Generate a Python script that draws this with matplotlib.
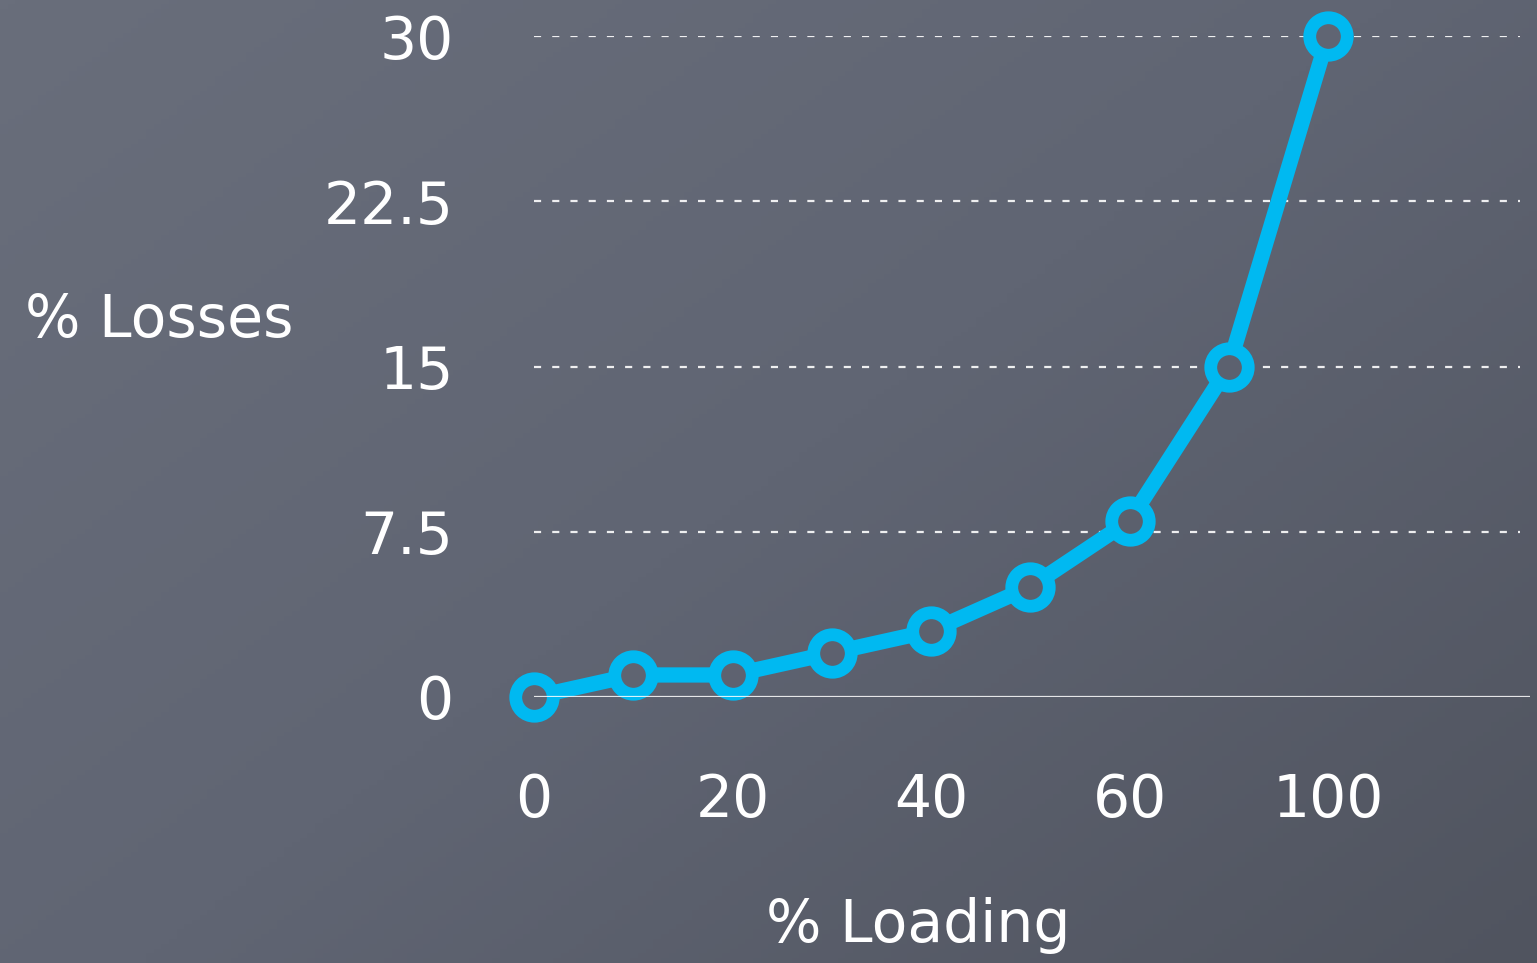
"""Chalkboard-style line chart: % losses vs % loading."""
import numpy as np
import matplotlib
matplotlib.use("Agg")
import matplotlib.pyplot as plt
from matplotlib.colors import LinearSegmentedColormap

plt.rcParams["font.family"] = ["DejaVu Sans"]

loading = ["0", "10", "20", "30", "40", "50", "60", "80", "100"]
losses = [0, 1, 1, 2, 3, 5, 8, 15, 30]
y_ticks = [0, 7.5, 15, 22.5, 30]
y_tick_labels = ["0", "7.5", "15", "22.5", "30"]

LINE = "#00b9f1"
TEXT = "white"

W, H = 1537, 963
fig = plt.figure(figsize=(W / 100, H / 100), dpi=100)

# chalkboard background: soft diagonal gradient
board = LinearSegmentedColormap.from_list("board", ["#696e7b", "#606573", "#50545f"])


def board_shade(fx, fy_top):
    return 0.55 * fx + 0.45 * fy_top


bg = fig.add_axes([0, 0, 1, 1])
bg.set_axis_off()
gx, gy = np.meshgrid(np.linspace(0, 1, 200), np.linspace(0, 1, 200))
bg.imshow(board_shade(gx, gy), cmap=board, vmin=0, vmax=1, aspect="auto",
          extent=[0, 1, 0, 1], origin="upper")

ax = fig.add_axes([534 / W, 266 / H, 996 / W, 661 / H])
ax.patch.set_alpha(0)
x = np.arange(len(loading))

for yv in y_ticks[1:]:
    ax.axhline(yv, xmin=0, xmax=0.99, color="white", lw=1.6, alpha=0.9,
               linestyle=(0, (3.2, 5.0)), zorder=1)
ax.axhline(0, color="white", lw=1.6, zorder=5, alpha=0.85)

ax.set_xlim(0, 996 / 99.25)
ax.set_ylim(0, 30)

ax.plot(x, losses, color=LINE, lw=11, solid_joinstyle="round",
        solid_capstyle="round", zorder=3, clip_on=False)

# ring markers whose holes show the board underneath
pts = ax.transData.transform(np.column_stack([x, losses]))
for (px, py), xi, yi in zip(pts, x, losses):
    face = board(board_shade(px / W, 1 - py / H))
    ax.plot([xi], [yi], linestyle="none", marker="o", markersize=27,
            markerfacecolor=face, markeredgecolor=LINE, markeredgewidth=9.2,
            zorder=4, clip_on=False)

ax.set_xticks(x[::2])
ax.set_xticklabels(loading[::2])
ax.set_yticks(y_ticks)
ax.set_yticklabels(y_tick_labels)
ax.tick_params(axis="both", length=0, colors=TEXT, labelsize=42)
ax.tick_params(axis="x", pad=54)
ax.tick_params(axis="y", pad=58)
for s in ax.spines.values():
    s.set_visible(False)

fig.text(25 / W, 1 - 320 / H, "% Losses", color=TEXT, fontsize=42,
         ha="left", va="center")
fig.text(918 / W, 1 - 925 / H, "% Loading", color=TEXT, fontsize=42,
         ha="center", va="center")

fig.savefig("out.png", dpi=100)
